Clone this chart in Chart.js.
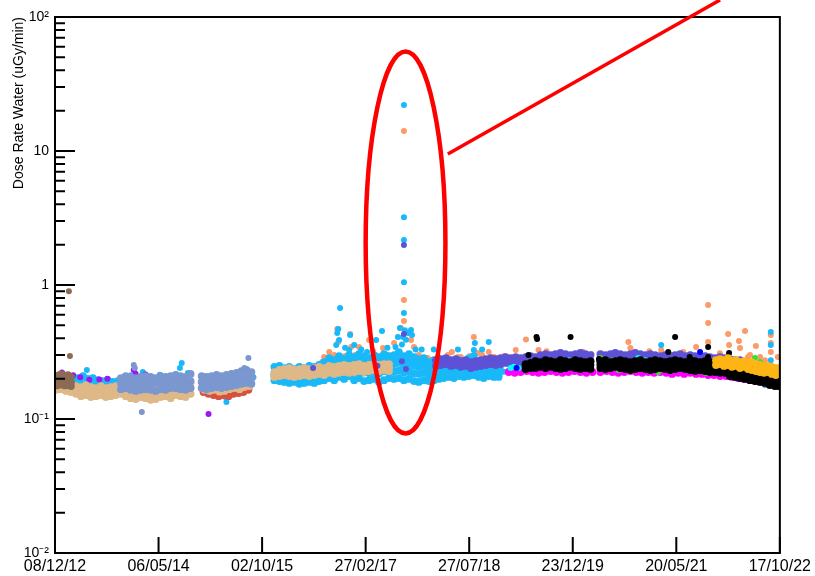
<!doctype html>
<html lang="en">
<head>
<meta charset="utf-8">
<title>Dose Rate Water</title>
<script src="https://cdn.jsdelivr.net/npm/chart.js@4.4.1/dist/chart.umd.min.js"></script>
<style>
  html, body { margin: 0; padding: 0; background: #fff; }
  #chartContainer { width: 815px; height: 576px; }
</style>
</head>
<body>
<div id="chartContainer"><canvas id="myChart"></canvas></div>
<script>
// x values are days since 08/12/12, y values in uGy/min
const xTickDays = [0, 514, 1028, 1542, 2056, 2570, 3084, 3598];
const xTickText = ['08/12/12', '06/05/14', '02/10/15', '27/02/17', '27/07/18', '23/12/19', '20/05/21', '17/10/22'];
const yTickValues = [0.01, 0.1, 1, 10, 100];
const yTickText = ['10\u207B\u00B2', '10\u207B\u00B9', '1', '10', '10\u00B2'];

// brown (early 2013)
const brownDays = [5, 20, 35, 49, 64, 79];
const brownHi = [0.205, 0.212, 0.215, 0.209, 0.212, 0.205];
const brownMid = [0.19, 0.192, 0.195, 0.19, 0.192, 0.188];
const brownLo = [0.178, 0.18, 0.182, 0.178, 0.18, 0.176];
const brownOut = [[69, 0.9], [74, 0.295]];

// purple
const purplePts = [[5, 0.198], [35, 0.222], [60, 0.21], [90, 0.212], [125, 0.205], [170, 0.196], [220, 0.197], [260, 0.2],
  [307, 0.165], [340, 0.19], [391, 0.232], [400, 0.218], [450, 0.215], [520, 0.2], [600, 0.205], [633, 0.151], [650, 0.16],
  [668, 0.165], [762, 0.109], [760, 0.16], [790, 0.165], [830, 0.163], [870, 0.165], [920, 0.17], [950, 0.176]];

// tan
const tanDaysA = [5, 30, 54, 79, 104, 129, 153, 178, 203, 228, 252, 277, 302, 327, 351, 376, 401, 426, 450, 475, 500, 524, 549, 574, 599, 623, 648, 673];
const tanHiA = [.183, .186, .183, .179, .176, .173, .179, .173, .170, .176, .170, .173, .176, .179, .176, .173, .167, .170, .173, .167, .170, .176, .179, .176, .183, .179, .176, .186];
const tanMidA = [.174, .176, .172, .169, .165, .16, .165, .159, .159, .163, .158, .16, .163, .166, .162, .157, .153, .157, .157, .153, .155, .16, .163, .159, .166, .163, .16, .17];
const tanLoA = [.165, .167, .162, .159, .154, .148, .151, .146, .148, .151, .146, .148, .151, .154, .148, .143, .141, .146, .143, .139, .141, .146, .148, .143, .151, .148, .146, .154];
const tanDaysB = [742, 767, 792, 817, 841, 866, 891, 916, 940, 965];
const tanHiB = [.176, .173, .176, .17, .173, .176, .179, .176, .183, .186];
const tanLoB = [.165, .162, .165, .16, .162, .167, .17, .167, .173, .176];
const tanDaysC = [1089, 1114, 1138, 1163, 1188, 1213, 1237, 1262, 1287, 1311, 1336, 1361, 1386, 1410, 1435, 1460, 1485, 1509, 1534, 1559, 1584, 1608, 1633, 1658];
const tanHiC = [.224, .232, .236, .240, .232, .236, .240, .236, .240, .245, .240, .249, .245, .249, .253, .249, .253, .257, .249, .253, .257, .253, .257, .257];
const tanMidC = [.215, .22, .224, .224, .219, .222, .226, .222, .226, .231, .226, .235, .231, .235, .238, .235, .238, .242, .236, .24, .244, .24, .244, .242];
const tanLoC = [.206, .209, .213, .209, .206, .209, .213, .209, .213, .217, .213, .221, .217, .221, .224, .221, .224, .228, .224, .228, .232, .228, .232, .228];

// cornflower blue (2014-2015)
const cfDaysA = [327, 351, 376, 401, 426, 450, 475, 500, 524, 549, 574, 599, 623, 648, 673];
const cfHiA = [.202, .209, .206, .202, .206, .209, .206, .202, .209, .206, .209, .213, .209, .206, .217];
const cfMidA = [.186, .189, .186, .183, .186, .189, .183, .186, .189, .186, .189, .192, .189, .186, .192];
const cfLoA = [.167, .170, .165, .162, .165, .167, .165, .162, .167, .165, .170, .170, .167, .165, .170];
const cfDaysB = [728, 752, 777, 802, 826, 851, 876, 901, 925, 950, 975];
const cfHiB = [.209, .206, .209, .213, .209, .213, .217, .221, .228, .232, .224];
const cfMidB = [.189, .186, .189, .192, .189, .192, .195, .199, .202, .206, .202];
const cfLoB = [.170, .167, .170, .173, .170, .173, .176, .179, .183, .186, .183];
const cfOut = [[391, 0.253], [396, 0.24], [431, 0.113], [960, 0.285], [940, 0.24], [945, 0.236]];

// red (2015)
const redDays = [737, 762, 787, 812, 836, 861, 886, 911, 935, 960];
const redHi = [.167, .162, .165, .16, .162, .16, .162, .165, .167, .17];
const redLo = [.159, .154, .151, .148, .151, .148, .154, .156, .159, .165];
const redOut = [[648, 0.159], [668, 0.154]];

// deep sky blue
const sbDaysA = [15, 40, 64, 89, 114, 139, 163, 188, 213, 238, 262, 287, 312, 337];
const sbHiA = [.192, .199, .195, .206, .202, .209, .199, .202, .195, .192, .195, .189, .192, .199];
const sbLoA = [.179, .183, .176, .183, .179, .186, .176, .179, .173, .170, .173, .170, .173, .176];
const sbOutA = [[158, .232], [436, .224], [629, .262], [620, .24], [376, .212], [450, .211], [520, .214], [600, .216], [660, .22],
  [735, .205], [745, .19], [960, .21], [975, .19], [985, .205], [851, .134], [851, .143], [846, .15]];
const sbDaysB = [1089, 1114, 1138, 1163, 1188, 1213, 1237, 1262, 1287, 1311, 1336, 1361, 1386, 1410, 1435, 1460, 1485, 1509, 1534, 1559,
  1584, 1608, 1633, 1658, 1683, 1707, 1732, 1757, 1782, 1806, 1831, 1856, 1881, 1905, 1930, 1955, 1980, 2004, 2029, 2054, 2079, 2103, 2128, 2153, 2178, 2202];
const sbHiB = [.245, .249, .240, .245, .236, .245, .240, .249, .245, .253, .266, .285, .275, .295, .280, .300, .290, .305, .295, .285,
  .300, .290, .305, .295, .300, .316, .295, .305, .290, .280, .285, .266, .275, .270, .262, .266, .257, .275, .266, .285, .295, .266, .257, .262, .253, .249];
const sbMidB = [.217, .213, .206, .209, .206, .202, .206, .206, .209, .213, .224, .240, .232, .249, .240, .253, .245, .257, .249, .245,
  .253, .249, .257, .253, .257, .262, .253, .257, .249, .245, .249, .236, .240, .240, .236, .240, .232, .245, .240, .249, .253, .236, .232, .236, .232, .228];
const sbMid2B = [.209, .206, .2, .202, .2, .198, .2, .2, .202, .206, .214, .222, .217, .226, .22, .228, .221, .23, .222, .22,
  .226, .219, .228, .224, .226, .23, .222, .226, .219, .217, .221, .214, .217, .218, .219, .222, .217, .226, .222, .228, .232, .22, .216, .221, .218, .216];
const sbLoB = [.195, .192, .189, .186, .189, .183, .186, .189, .186, .192, .195, .202, .195, .206, .199, .209, .195, .202, .192, .195,
  .199, .189, .195, .202, .199, .202, .195, .199, .192, .189, .195, .192, .195, .199, .202, .206, .202, .209, .206, .209, .213, .206, .202, .209, .206, .206];
const sbUpDays = [1361, 1386, 1410, 1435, 1460, 1485, 1509, 1534, 1559, 1584, 1608, 1633, 1658, 1683, 1707, 1732, 1757, 1782, 1806, 1831, 1856, 1881, 1905];
const sbUp = [.262, .253, .27, .26, .275, .266, .28, .27, .264, .275, .268, .28, .273, .277, .288, .273, .28, .268, .262, .266, .253, .258, .255];
const sbOutB = [[1732, 22.0], [1732, 3.21], [1732, 2.17], [1732, 1.05], [1732, .618], [1737, .46], [1727, .41], [1415, .673], [1401, .438],
  [1406, .469], [1465, .424], [1623, .454], [1712, .478], [1767, .462], [1772, .424], [2084, .369], [2153, .376], [2079, .327], [1594, .389],
  [1549, .316], [1410, .389], [1396, .357], [1485, .357], [1460, .327], [1757, .437], [1702, .409], [1742, .39], [1722, .36], [1440, .34],
  [1520, .33], [1650, .34], [1690, .345], [1790, .33], [1820, .33], [1880, .33], [2120, .33], [2000, .33]];
const sbOutC = [[2212, .24], [2227, .225], [2252, .23], [2300, .23], [2400, .228], [3009, .357], [3553, .446], [3553, .357], [3553, .275],
  [3524, .179], [3563, .183], [3588, .173], [3578, .19], [3509, .2], [3539, .195], [3593, .2], [3100, .27], [3160, .268]];

// light salmon
const orangePts = [[1326, .266], [1361, .316], [1401, .469], [1406, .376], [1465, .431], [1470, .345], [1509, .345], [1559, .389], [1579, .322],
  [1628, .339], [1683, .369], [1717, .478], [1732, .773], [1732, .539], [1732, 14.1], [1767, .389], [1782, .345], [1806, .300], [1841, .275],
  [1866, .275], [1970, .316], [2014, .290], [2079, .409], [2098, .311], [2153, .316], [2287, .327], [2338, .392], [2400, .327], [2559, .300],
  [2663, .305], [2846, .376], [2856, .339], [2910, .295], [3009, .327], [3058, .300], [3118, .316], [3182, .345], [3242, .709], [3242, .521],
  [3242, .376], [3341, .431], [3346, .357], [3395, .382], [3425, .454], [3400, .339], [3440, .290], [3479, .351], [3524, .275], [3553, .424],
  [3553, .369], [3553, .316], [3588, .290],
  [1336, .29], [1386, .3], [1440, .295], [1490, .3], [1540, .29], [1600, .295], [1650, .3], [1700, .31], [1750, .3], [1800, .29],
  [1850, .285], [1900, .29], [1950, .3], [2000, .29], [2060, .295], [2120, .3], [2180, .29], [2230, .295], [2280, .29],
  [2440, .32], [2620, .318], [2950, .32], [3300, .31], [3450, .3], [3500, .29]];

// medium slate blue (2018-2022)
const msDays = [1891, 1915, 1940, 1965, 1990, 2014, 2039, 2064, 2089, 2113, 2138, 2163, 2188, 2212, 2237, 2262, 2287, 2311, 2336, 2361,
  2385, 2410, 2435, 2460, 2484, 2509, 2534, 2559, 2583, 2608, 2633, 2658, 2707, 2732, 2757, 2781, 2806, 2831, 2856, 2880,
  2905, 2930, 2955, 2979, 3004, 3029, 3053, 3078, 3103, 3128, 3153, 3177, 3202, 3227, 3251, 3276, 3301, 3326, 3350, 3375, 3400];
const msHi = [.275, .280, .285, .275, .280, .270, .275, .266, .270, .275, .280, .285, .280, .285, .290, .285, .290, .285, .290, .295,
  .290, .300, .305, .300, .305, .311, .305, .300, .305, .311, .305, .300, .305, .300, .305, .311, .305, .300, .305, .311,
  .305, .300, .305, .300, .295, .300, .295, .300, .305, .295, .300, .295, .290, .295, .290, .285, .290, .285, .280, .275, .275];
const msLo = [.249, .253, .257, .249, .253, .245, .249, .240, .245, .249, .253, .257, .253, .257, .262, .257, .262, .257, .262, .266,
  .262, .270, .275, .270, .275, .280, .275, .270, .275, .280, .275, .270, .275, .270, .275, .280, .275, .270, .275, .280,
  .275, .270, .275, .270, .266, .270, .266, .270, .275, .266, .270, .266, .262, .266, .262, .257, .262, .257, .253, .249, .249];
const msOut = [[1732, 1.99], [1732, .43], [1722, .27], [1281, .24], [1742, .236], [1600, .25]];

// black (2019-2022)
const blkDays = [2336, 2361, 2385, 2410, 2435, 2460, 2484, 2509, 2534, 2559, 2583, 2608, 2633, 2658, 2707, 2732, 2757, 2781, 2806, 2831,
  2856, 2880, 2905, 2930, 2955, 2979, 3004, 3029, 3053, 3078, 3103, 3128, 3153, 3177, 3202, 3227, 3251, 3276, 3301, 3326,
  3350, 3375, 3400, 3425, 3450, 3474, 3499, 3524, 3548, 3573, 3593];
const blkHi = [.257, .262, .270, .266, .275, .270, .266, .275, .270, .266, .275, .270, .266, .270, .270, .275, .266, .270, .275, .270,
  .266, .270, .275, .266, .270, .275, .270, .266, .270, .275, .270, .266, .275, .270, .266, .270, .266, .262, .257, .257,
  .253, .249, .245, .240, .236, .232, .228, .224, .221, .217, .213];
const blkMid = [.247, .251, .255, .255, .257, .257, .253, .255, .255, .255, .257, .253, .253, .253, .255, .255, .253, .257, .257, .253,
  .249, .253, .257, .251, .251, .255, .255, .251, .251, .255, .255, .251, .253, .249, .249, .249, .245, .243, .239, .239,
  .231, .227, .223, .219, .215, .211, .208, .205, .2, .196, .194];
const blkLo = [.236, .240, .240, .245, .240, .245, .240, .236, .240, .245, .240, .236, .240, .236, .240, .236, .240, .245, .240, .236,
  .232, .236, .240, .236, .232, .236, .240, .236, .232, .236, .240, .236, .232, .228, .232, .228, .224, .224, .221, .221,
  .209, .206, .202, .199, .195, .192, .189, .186, .179, .176, .176];
const blkOut = [[2390, .41], [2393, .395], [2559, .409], [3078, .409], [3044, .316], [3242, .345], [3346, .311], [3553, .245],
  [2350, .3], [3242, .29], [3150, .29], [2700, .28]];

// magenta lower edge
const mgDays = [2252, 2282, 2311, 2341, 2371, 2400, 2430, 2460, 2489, 2519, 2549, 2578, 2608, 2638, 2668, 2707, 2737, 2767, 2796, 2826,
  2856, 2885, 2915, 2945, 2974, 3004, 3034, 3063, 3093, 3123, 3153, 3182, 3212, 3242, 3271, 3301, 3331, 3360, 3390, 3420,
  3449, 3479, 3509, 3539, 3568];
const mgVals = [.224, .221, .224, .228, .224, .221, .224, .228, .224, .221, .224, .228, .224, .221, .224, .224, .228, .224, .221, .224,
  .228, .224, .221, .224, .221, .224, .221, .217, .221, .217, .221, .217, .217, .213, .213, .209, .209, .206, .202, .199,
  .195, .192, .189, .186, .183];

// orange / gold (late 2021-2022)
const gdDays = [3281, 3301, 3321, 3341, 3360, 3380, 3400, 3420, 3440, 3459, 3479, 3499, 3519, 3539, 3558, 3578, 3593];
const gdHi = [.275, .280, .275, .285, .270, .275, .266, .270, .262, .266, .257, .253, .249, .249, .245, .240, .240];
const gdMid = [.253, .257, .249, .253, .245, .249, .240, .245, .236, .232, .228, .224, .221, .224, .217, .213, .217];

// small series
const greenPts = [[2336, .245], [2707, .285], [2737, .266], [2771, .275], [2796, .232], [2994, .224], [3157, .275], [3227, .221], [3242, .221], [3474, .285], [3499, .266]];
const bluePts = [[2291, .240], [2361, .245], [2895, .236], [3202, .316]];
const cyanPts = [[2262, .24], [2277, .245], [2301, .24], [2549, .275], [2895, .285], [2930, .275]];

// annotation (ellipse round the spike and the pointer line)
const ellipseDays = [1542, 1938];
const ellipseValues = [0.078, 55.3];
const pointerStart = [1950, 9.5];
const pointerEnd = [3301, 134];

const FONT = "'Liberation Sans', Arial, Helvetica, sans-serif";

// band rows get slightly bigger markers so they merge like the dense original
const rows = (days, ...lists) => {
  const out = [];
  lists.forEach(list => list.forEach((v, i) => out.push({x: days[i], y: v, band: true})));
  return out;
};
const pairs = list => list.map(p => ({x: p[0], y: p[1]}));

const series = [
  {color: '#fdb515', order: 1, data: rows(gdDays, gdHi, gdMid)},
  {color: '#000000', order: 2, data: rows(blkDays, blkHi, blkMid, blkLo).concat(pairs(blkOut))},
  {color: '#33e033', order: 3, data: pairs(greenPts)},
  {color: '#0000ff', order: 4, data: pairs(bluePts)},
  {color: '#00ffff', order: 5, data: pairs(cyanPts)},
  {color: '#ff00ff', order: 6, data: rows(mgDays, mgVals)},
  {color: '#5d52d6', order: 7, data: rows(msDays, msHi, msLo).concat(pairs(msOut))},
  {color: '#8b6b55', order: 8, data: rows(brownDays, brownHi, brownMid, brownLo).concat(pairs(brownOut))},
  {color: '#7b97d0', order: 9, data: rows(cfDaysA, cfHiA, cfMidA, cfLoA).concat(rows(cfDaysB, cfHiB, cfMidB, cfLoB), pairs(cfOut))},
  {color: '#deb887', order: 10, data: rows(tanDaysA, tanHiA, tanMidA, tanLoA).concat(rows(tanDaysB, tanHiB, tanLoB), rows(tanDaysC, tanHiC, tanMidC, tanLoC))},
  {color: '#9a16f2', order: 11, data: pairs(purplePts)},
  {color: '#d65140', order: 12, data: rows(redDays, redHi, redLo).concat(pairs(redOut))},
  {color: '#19b9f9', order: 13, data: rows(sbDaysA, sbHiA, sbLoA).concat(pairs(sbOutA), rows(sbDaysB, sbHiB, sbMidB, sbMid2B, sbLoB), rows(sbUpDays, sbUp), pairs(sbOutB), pairs(sbOutC))},
  {color: '#fc9a68', order: 14, data: pairs(orangePts)}
];

// frame, inward ticks and the red annotation
const framePlugin = {
  id: 'frame',
  afterDatasetsDraw(chart) {
    const {ctx, chartArea: a, scales: {x, y}} = chart;
    ctx.save();
    ctx.strokeStyle = '#000';
    ctx.lineWidth = 2;
    ctx.strokeRect(a.left, a.top, a.right - a.left, a.bottom - a.top);
    ctx.beginPath();
    xTickDays.forEach(d => {
      const px = x.getPixelForValue(d);
      ctx.moveTo(px, a.bottom);
      ctx.lineTo(px, a.bottom - 16);
    });
    yTickValues.forEach((dec, k) => {
      if (k === yTickValues.length - 1) return;
      for (let m = 1; m <= 10; m++) {
        const py = y.getPixelForValue(dec * m);
        const len = (m === 1 || m === 10) ? 20 : 10;
        ctx.moveTo(a.left, py);
        ctx.lineTo(a.left + len, py);
      }
    });
    ctx.stroke();

    ctx.strokeStyle = '#ff0000';
    ctx.lineWidth = 4.5;
    const ex0 = x.getPixelForValue(ellipseDays[0]), ex1 = x.getPixelForValue(ellipseDays[1]);
    const ey0 = y.getPixelForValue(ellipseValues[0]), ey1 = y.getPixelForValue(ellipseValues[1]);
    ctx.beginPath();
    ctx.ellipse((ex0 + ex1) / 2, (ey0 + ey1) / 2, (ex1 - ex0) / 2, (ey0 - ey1) / 2, 0, 0, Math.PI * 2);
    ctx.stroke();
    ctx.lineWidth = 3.5;
    ctx.beginPath();
    ctx.moveTo(x.getPixelForValue(pointerStart[0]), y.getPixelForValue(pointerStart[1]));
    ctx.lineTo(x.getPixelForValue(pointerEnd[0]), y.getPixelForValue(pointerEnd[1]));
    ctx.stroke();
    ctx.restore();
  }
};

new Chart(document.getElementById('myChart'), {
  type: 'scatter',
  data: {
    datasets: series.map(s => ({
      data: s.data,
      order: s.order,
      backgroundColor: s.color,
      borderColor: s.color,
      pointRadius: c => (c.raw && c.raw.band) ? 3.9 : 3,
      pointBorderWidth: 0,
      pointHoverRadius: 3
    }))
  },
  options: {
    responsive: true,
    maintainAspectRatio: false,
    animation: false,
    events: [],
    layout: {padding: {top: 17, right: 33, bottom: 0, left: 0}},
    plugins: {legend: {display: false}, tooltip: {enabled: false}},
    scales: {
      x: {
        type: 'linear',
        min: 0,
        max: 3598,
        grid: {display: false, drawTicks: false},
        border: {display: false},
        afterBuildTicks: s => { s.ticks = xTickDays.map(v => ({value: v})); },
        afterFit: s => { s.height = 23; },
        ticks: {
          autoSkip: false,
          maxRotation: 0,
          padding: 4,
          color: '#000',
          font: {family: FONT, size: 16},
          callback: (v, i) => xTickText[i]
        }
      },
      y: {
        type: 'logarithmic',
        min: 0.01,
        max: 100,
        grid: {display: false, drawTicks: false},
        border: {display: false},
        afterBuildTicks: s => { s.ticks = yTickValues.map(v => ({value: v})); },
        afterFit: s => { s.width = 55; },
        ticks: {
          autoSkip: false,
          padding: 6,
          color: '#000',
          font: {family: FONT, size: 14},
          callback: v => yTickText[yTickValues.indexOf(v)]
        },
        title: {
          display: true,
          text: 'Dose Rate Water (uGy/min)',
          align: 'end',
          color: '#000',
          font: {family: FONT, size: 14},
          padding: {top: 11, bottom: 0}
        }
      }
    }
  },
  plugins: [framePlugin]
});
</script>
</body>
</html>
